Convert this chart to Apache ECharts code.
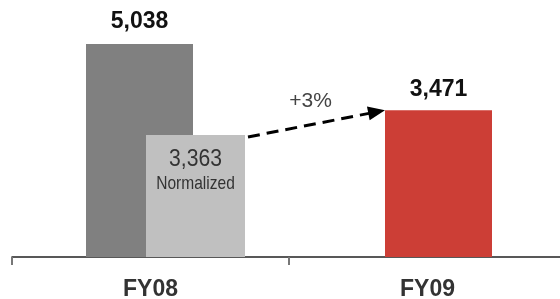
<!DOCTYPE html>
<html>
<head>
<meta charset="utf-8">
<script src="https://cdn.jsdelivr.net/npm/echarts@6/dist/echarts.min.js"></script>
<style>
  html, body { margin: 0; padding: 0; background: #fff; }
  #chart { width: 560px; height: 299px; }
</style>
</head>
<body>
<div id="chart"></div>
<script>
// ---- data ----
const categories = ['FY08', 'FY09'];
const reportedValues = [5038, '-'];        // dark grey FY08 bar
const fy09Values = ['-', 3471];            // red FY09 bar
const normalizedBarValues = [2886, '-'];   // light grey bar (height as drawn)
const normalizedLabels = ['3,363', ''];
const normalizedCaption = 'Normalized';
const changeLabel = '+3%';

function fmt(v) {
  return Number(v).toLocaleString('en-US');
}

const chart = echarts.init(document.getElementById('chart'), null, { renderer: 'canvas' });

const boldLabel = {
  show: true,
  position: 'top',
  fontFamily: 'Liberation Sans, Arial, sans-serif',
  fontWeight: 'bold',
  fontSize: 23,
  color: '#111',
  formatter: p => fmt(p.value)
};

const option = {
  animation: false,
  backgroundColor: '#fff',
  grid: { left: 12, top: 3.3, width: 554, height: 253.7, containLabel: false, outerBoundsMode: 'none' },
  xAxis: [
    {
      type: 'category',
      data: categories,
      axisLine: { show: true, lineStyle: { color: '#222', width: 1.5 } },
      axisTick: { show: true, length: 8, lineStyle: { color: '#777', width: 2 } },
      axisLabel: {
        margin: 21,
        fontFamily: 'Liberation Sans, Arial, sans-serif',
        fontWeight: 'bold',
        fontSize: 23,
        color: '#333'
      }
    },
    {
      type: 'category',
      data: categories,
      show: false
    }
  ],
  yAxis: { type: 'value', min: 0, max: 6000, show: false },
  series: [
    {
      type: 'bar',
      xAxisIndex: 0,
      data: reportedValues,
      barWidth: 107,
      barGap: '-79.44%',
      itemStyle: { color: '#808080' },
      label: Object.assign({}, boldLabel, { distance: 11 })
    },
    {
      type: 'bar',
      xAxisIndex: 0,
      data: fy09Values,
      barWidth: 107,
      barGap: '-79.44%',
      itemStyle: { color: '#CC3E36' },
      label: Object.assign({}, boldLabel, { distance: 9 })
    },
    {
      type: 'bar',
      xAxisIndex: 1,
      data: ['-', '-'],
      barWidth: 99,
      barGap: '-9.09%',
      silent: true,
      itemStyle: { color: 'rgba(0,0,0,0)' }
    },
    {
      type: 'bar',
      xAxisIndex: 1,
      data: normalizedBarValues,
      barWidth: 99,
      barGap: '-9.09%',
      itemStyle: { color: '#C0C0C0' }
    }
  ]
};

chart.setOption(option);

// ---- annotations positioned from the library's bar layout ----
function barBox(seriesIndex, dataIndex) {
  const l = chart.getModel().getSeriesByIndex(seriesIndex).getData().getItemLayout(dataIndex);
  return {
    left: Math.min(l.x, l.x + l.width),
    right: Math.max(l.x, l.x + l.width),
    top: Math.min(l.y, l.y + l.height)
  };
}
const fromBox = barBox(3, 0);
const toBox = barBox(1, 1);
const sx = fromBox.right + 3, sy = fromBox.top + 2;
const ex = toBox.left, ey = toBox.top;
const dx = ex - sx, dy = ey - sy;
const len = Math.sqrt(dx * dx + dy * dy);
const ux = dx / len, uy = dy / len;
const headLen = 17, headHalf = 7;
const bx = ex - ux * headLen, by = ey - uy * headLen;
const px = -uy, py = ux;
const normCx = (fromBox.left + fromBox.right) / 2;

chart.setOption({
  graphic: [
    {
      type: 'text',
      x: normCx,
      y: fromBox.top + 12,
      scaleX: 0.88,
      style: {
        text: normalizedLabels[0],
        fontFamily: 'Liberation Sans, Arial, sans-serif',
        fontSize: 24,
        fill: '#333',
        align: 'center',
        verticalAlign: 'top'
      },
      z: 100
    },
    {
      type: 'text',
      x: normCx,
      y: fromBox.top + 39,
      scaleX: 0.84,
      style: {
        text: normalizedCaption,
        fontFamily: 'Liberation Sans, Arial, sans-serif',
        fontSize: 18.5,
        fill: '#333',
        align: 'center',
        verticalAlign: 'top'
      },
      z: 100
    },
    {
      type: 'line',
      shape: { x1: sx, y1: sy, x2: bx + ux * 2, y2: by + uy * 2 },
      style: { stroke: '#000', lineWidth: 3, lineDash: [12, 7] },
      z: 100
    },
    {
      type: 'polygon',
      shape: { points: [[ex, ey], [bx + px * headHalf, by + py * headHalf], [bx - px * headHalf, by - py * headHalf]] },
      style: { fill: '#000' },
      z: 100
    },
    {
      type: 'text',
      x: (sx + ex) / 2 - 6,
      y: (sy + ey) / 2 - 22,
      style: {
        text: changeLabel,
        fontFamily: 'Liberation Sans, Arial, sans-serif',
        fontSize: 21,
        fill: '#444',
        align: 'center',
        verticalAlign: 'middle'
      },
      z: 100
    }
  ]
});
</script>
</body>
</html>
